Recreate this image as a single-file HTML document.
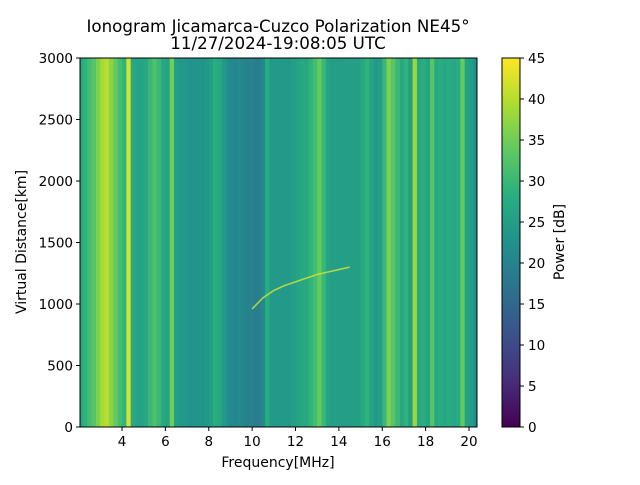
<!DOCTYPE html>
<html><head><meta charset="utf-8"><style>
body{margin:0;background:#fff;}
svg text{font-family:"DejaVu Sans","Liberation Sans",sans-serif;fill:#000;}
</style></head><body>
<svg id="chart" width="640" height="480" xmlns="http://www.w3.org/2000/svg">
<defs>
<linearGradient id="vir" x1="0" y1="1" x2="0" y2="0">
<stop offset="0" stop-color="#440154"/><stop offset="0.125" stop-color="#472d7b"/><stop offset="0.25" stop-color="#3b528b"/><stop offset="0.375" stop-color="#2c728e"/><stop offset="0.5" stop-color="#21918c"/><stop offset="0.625" stop-color="#28ae80"/><stop offset="0.75" stop-color="#5ec962"/><stop offset="0.875" stop-color="#addc30"/><stop offset="1" stop-color="#fde725"/>
</linearGradient>
</defs>
<text x="278" y="32" text-anchor="middle" font-size="16.7">Ionogram Jicamarca-Cuzco Polarization NE45°</text>
<text x="278" y="49" text-anchor="middle" font-size="16.7">11/27/2024-19:08:05 UTC</text>
<g id="heat"></g>
<g id="trace"></g>
<rect x="80" y="58" width="397" height="369" fill="none" stroke="#000" stroke-width="1"/>
<g id="xt"></g>
<g id="yt"></g>
<text x="278" y="467" text-anchor="middle" font-size="14">Frequency[MHz]</text>
<text transform="translate(26,242) rotate(-90)" text-anchor="middle" font-size="14">Virtual Distance[km]</text>
<rect x="502" y="58" width="18" height="369" fill="url(#vir)" stroke="#000" stroke-width="1"/>
<g id="ct"></g>
<text transform="translate(564,242) rotate(-90)" text-anchor="middle" font-size="14">Power [dB]</text>
</svg>
<script>
const freqStart = 2.0, freqStep = 0.2;
const power = [27,29,31,33,36,39,40,37,34,31,29,42,27,26,26,27,30,32,30,27,26,35,25,24,24,23,23,23,23,24,25,28,27,24,22,21,21,21,20,20,19,19,21,28,24,24,24,24,24,25,26,27,27,29,31,34,30,26,25,25,25,25,25,25,25,27,29,26,24,25,30,36,33,30,27,29,25,38,27,28,26,33,27,28,27,28,27,28,34,26,25,22];
const traceFreq = [10.0,10.5,11.0,11.5,12.0,12.5,13.0,13.5,14.0,14.5];
const traceDist = [960,1050,1110,1150,1180,1210,1240,1260,1280,1300];
const xTicks = [4,6,8,10,12,14,16,18,20];
const yTicks = [0,500,1000,1500,2000,2500,3000];
const cTicks = [0,5,10,15,20,25,30,35,40,45];
const NS="http://www.w3.org/2000/svg";
const fx = f => 122 + (f-4)*(469-122)/16;
const fy = d => 427 - d*369/3000;
const fc = v => 427 - v*369/45;
const stops=[[68,1,84],[71,45,123],[59,82,139],[44,114,142],[33,145,140],[40,174,128],[94,201,98],[173,220,48],[253,231,37]];
function vir(v){let t=Math.max(0,Math.min(1,v/45))*8;let i=Math.min(7,Math.floor(t)),r=t-i;const a=stops[i],b=stops[i+1];return `rgb(${a.map((c,k)=>Math.round(c+(b[k]-c)*r)).join(',')})`;}
function el(tag,attrs,parent){const e=document.createElementNS(NS,tag);for(const k in attrs)e.setAttribute(k,attrs[k]);parent.appendChild(e);return e;}
const heat=document.getElementById('heat');
power.forEach((v,i)=>{
  const x0=Math.max(80,fx(freqStart+i*freqStep)), x1=Math.min(477,fx(freqStart+(i+1)*freqStep));
  if(x1<=x0) return;
  const r=el('rect',{x:x0,y:58,width:x1-x0+0.3,height:369,fill:vir(v)},heat);
  
  
});
const tr=document.getElementById('trace');
let d='';traceFreq.forEach((f,i)=>{d+=(i?'L':'M')+fx(f)+','+fy(traceDist[i]);});
const p=el('path',{d:d,fill:'none',stroke:'#c8e03a','stroke-width':1.6,'stroke-opacity':0.85},tr);


const xt=document.getElementById('xt');
xTicks.forEach(t=>{const x=fx(t);el('line',{x1:x,x2:x,y1:427,y2:431,stroke:'#000'},xt);const s=el('text',{x:x,y:446,'text-anchor':'middle','font-size':13.5},xt);s.textContent=t;

});
const yt=document.getElementById('yt');
yTicks.forEach(t=>{const y=fy(t);el('line',{x1:76,x2:80,y1:y,y2:y,stroke:'#000'},yt);const s=el('text',{x:73,y:y+5,'text-anchor':'end','font-size':13.5},yt);s.textContent=t;

});
const ct=document.getElementById('ct');
cTicks.forEach(t=>{const y=fc(t);el('line',{x1:520,x2:524,y1:y,y2:y,stroke:'#000'},ct);const s=el('text',{x:528,y:y+5,'font-size':13.5},ct);s.textContent=t;

});
</script>
</body></html>
